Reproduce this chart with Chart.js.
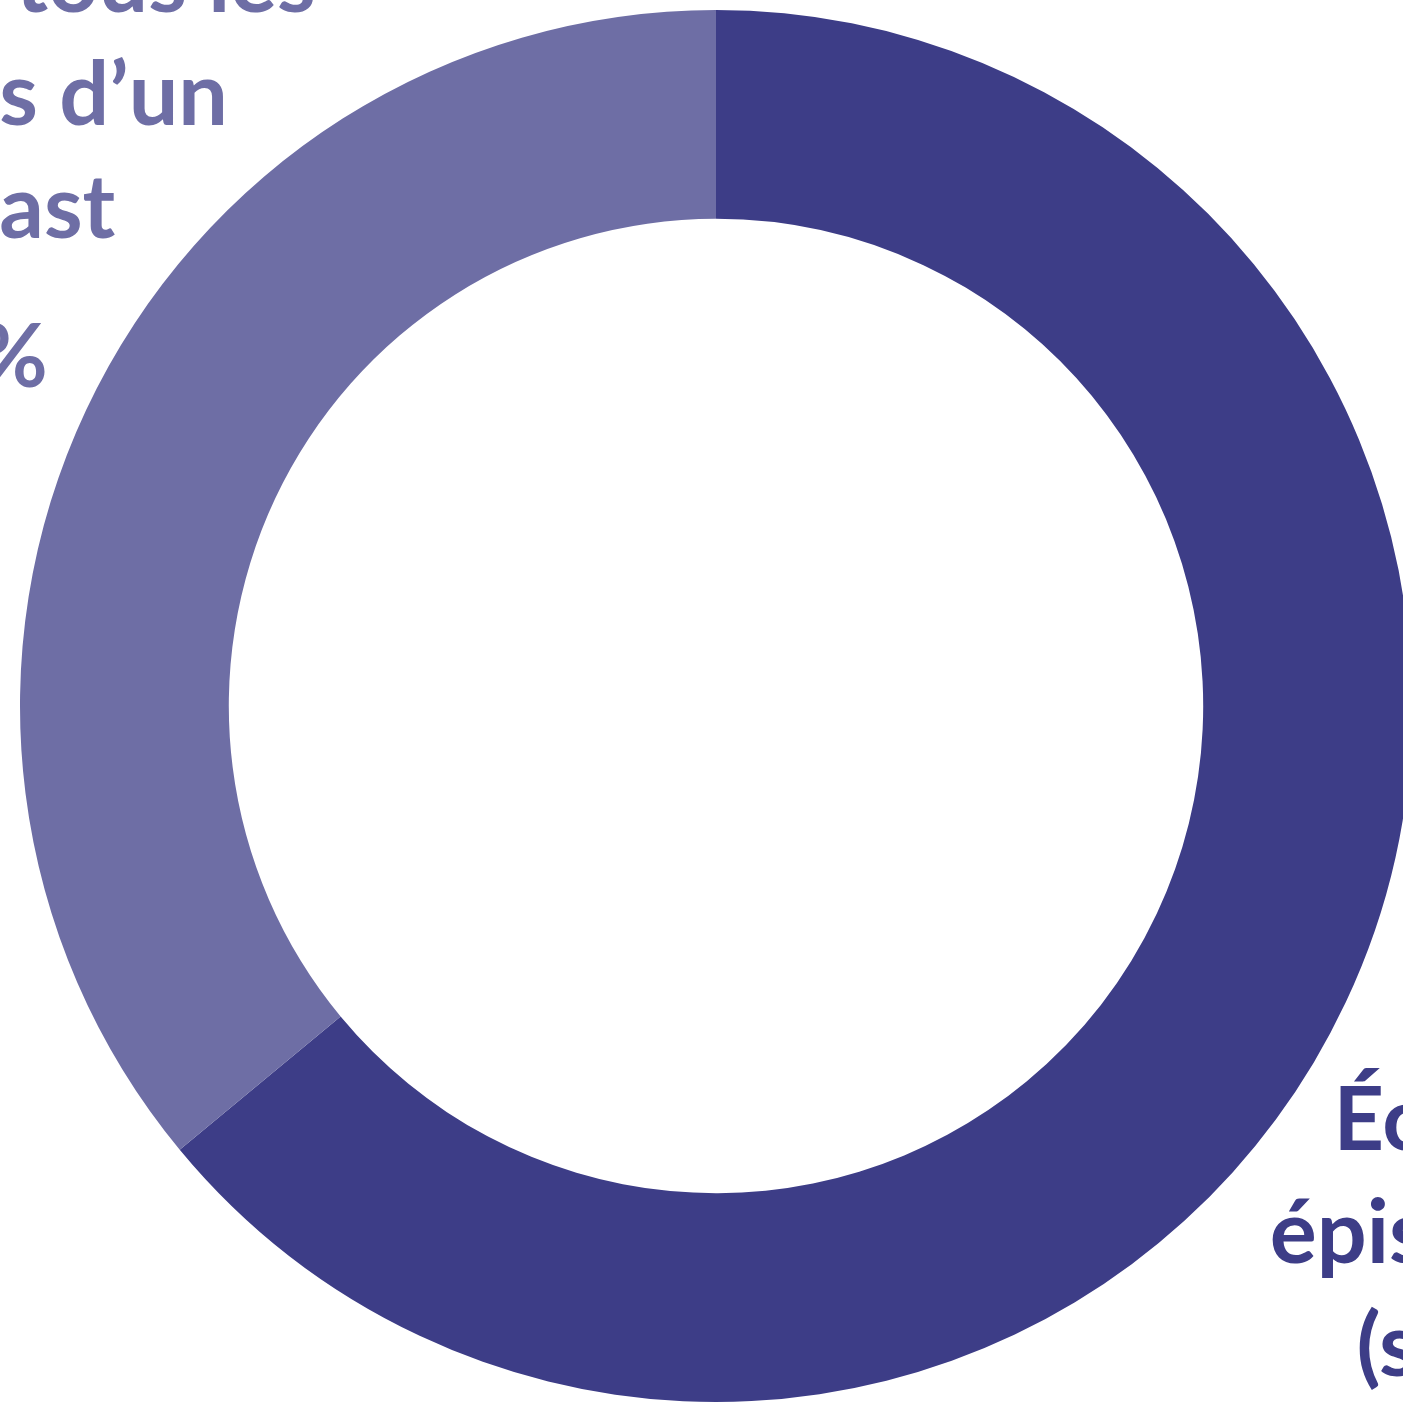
<!DOCTYPE html>
<html>
<head>
<meta charset="utf-8">
<script src="https://cdn.jsdelivr.net/npm/chart.js@4"></script>
<style>
  html, body { margin: 0; padding: 0; background: #fff; overflow: hidden; }
  #wrap { position: relative; width: 1412px; height: 1404px; }
</style>
</head>
<body>
<div id="wrap"><canvas id="chart"></canvas></div>
<script>
// Données du graphique
const categories = ['Écoute d\u2019épisodes clés (séparés)', 'Écoute de tous les épisodes d\u2019un podcast'];
const values = [64, 36];
const colors = ['#3D3D87', '#6E6EA5'];
// Libellés tels qu'affichés (retours à la ligne)
const labelLines = [
  ['Écoute de', 'épisodes clés', '(séparés)'],
  ['Écoute de tous les', 'épisodes d\u2019un', 'podcast']
];

// Plugin : libellés de données à l'extérieur de l'anneau
const outerLabels = {
  id: 'outerLabels',
  afterDraw(chart) {
    const { ctx } = chart;
    const arc = chart.getDatasetMeta(0).data[0];
    const cx = arc.x, cy = arc.y, R = arc.outerRadius;
    const lineH = 113;
    // centre horizontal et 1re ligne de base de chaque bloc
    const anchors = [
      { x: cx + R * 1.166, y: cy + R * 0.638 },
      { x: cx - R * 1.085, y: cy - R * 0.997 }
    ];
    ctx.save();
    ctx.font = 'bold 88px Lato';
    ctx.textAlign = 'center';
    ctx.textBaseline = 'alphabetic';
    labelLines.forEach((lines, i) => {
      ctx.fillStyle = colors[i];
      const a = anchors[i];
      lines.forEach((line, j) => {
        ctx.fillText(line, a.x, a.y + j * lineH);
      });
      ctx.fillText(values[i] + '%', a.x, a.y + (lines.length - 1) * lineH + 149);
    });
    ctx.restore();
  }
};

new Chart(document.getElementById('chart'), {
  type: 'doughnut',
  data: {
    labels: categories,
    datasets: [{
      data: values,
      backgroundColor: colors,
      borderWidth: 0
    }]
  },
  options: {
    responsive: true,
    maintainAspectRatio: false,
    cutout: '70%',
    animation: false,
    layout: { padding: { left: 20, right: 0, top: 10, bottom: 2 } },
    plugins: {
      legend: { display: false },
      tooltip: { enabled: false }
    }
  },
  plugins: [outerLabels]
});
</script>
</body>
</html>
